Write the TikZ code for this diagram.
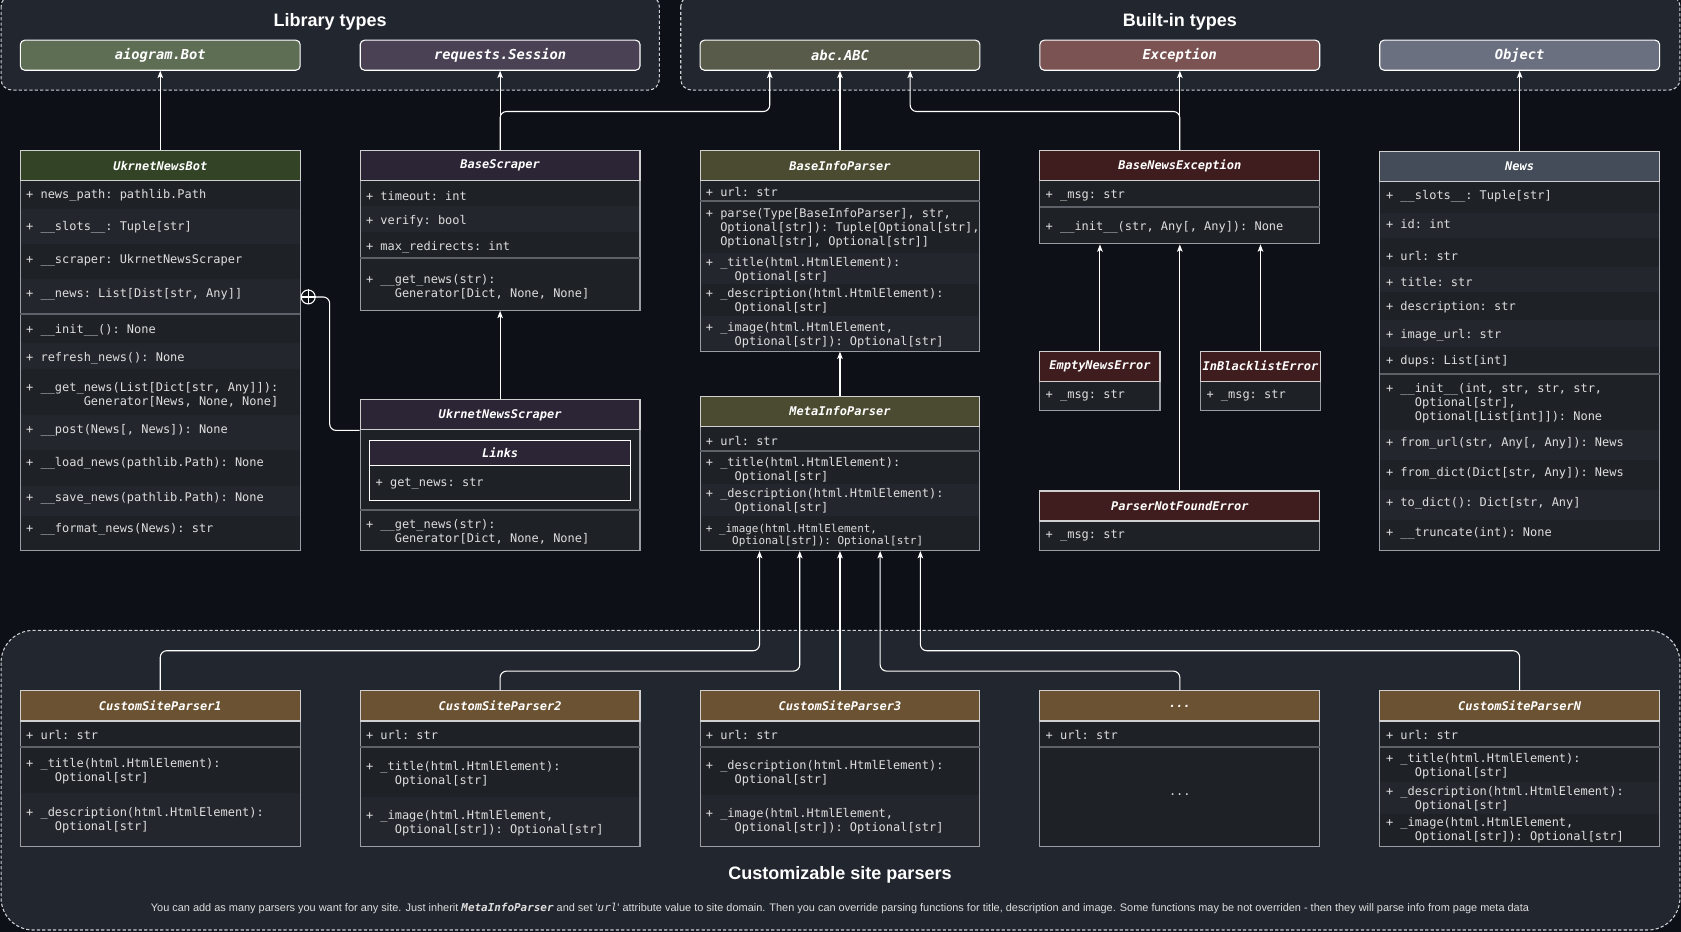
\documentclass[tikz,border=0pt]{standalone}
\usepackage{fontspec}
\usepackage{xcolor}
\usepackage{tikz}
\usetikzlibrary{arrows.meta}
\setmainfont{Liberation Sans}
\setmonofont{DejaVu Sans Mono}

\definecolor{bgc}{HTML}{0D1117}
\definecolor{grpfill}{HTML}{22262E}
\definecolor{grpline}{HTML}{CDD1D6}
\definecolor{rowa}{HTML}{1E2227}
\definecolor{rowbc}{HTML}{23272D}
\definecolor{boxline}{HTML}{9A9EA4}
\definecolor{headline}{HTML}{D0D0D0}
\definecolor{sepc}{HTML}{5E6268}
\definecolor{txtc}{HTML}{DDDDDD}
\definecolor{aioc}{HTML}{5E6E55}
\definecolor{reqc}{HTML}{4A4254}
\definecolor{abcc}{HTML}{585A4A}
\definecolor{excc}{HTML}{7A5352}
\definecolor{objc}{HTML}{6B7081}
\definecolor{botc}{HTML}{334426}
\definecolor{scrc}{HTML}{2B2536}
\definecolor{parc}{HTML}{4A4B30}
\definecolor{errc}{HTML}{3F1D1E}
\definecolor{newsc}{HTML}{434C58}
\definecolor{custc}{HTML}{6B5232}

\begin{document}
\begin{tikzpicture}[x=0.5pt, y=-0.5pt,
    grp/.style={draw=grpline, fill=grpfill, dash pattern=on 1.5pt off 1pt, line width=0.5pt},
    grptitle/.style={text=white, font=\fontsize{8.4}{10}\selectfont\bfseries},
    note/.style={text=txtc, font=\fontsize{5.1}{6}\selectfont},
    ext/.style={draw=white, rounded corners=2pt, line width=0.5pt, minimum width=130.5pt, minimum height=14pt, anchor=north, inner sep=0pt, text=white, font=\fontsize{6.4}{7.5}\selectfont\ttfamily\bfseries\itshape},
    cls/.style={draw=boxline, fill=rowa, line width=0.5pt, minimum width=130.5pt, anchor=north, inner sep=0pt},
    head/.style={draw=headline, line width=0.5pt, minimum width=130.5pt, minimum height=14pt, anchor=north, inner sep=0pt, text=white, font=\fontsize{5.6}{6.6}\selectfont\ttfamily\bfseries\itshape},
    txt/.style={anchor=west, inner sep=0pt, yshift=-0.7pt, align=left, text=txtc, font=\fontsize{5.58}{6.55}\selectfont\ttfamily},
    rowb/.style={fill=rowbc},
    divider/.style={draw=sepc, line width=1pt},
    nestc/.style={circle, draw=white, line width=0.5pt, minimum size=6.5pt, inner sep=0pt},
    link/.style={draw=white, line width=0.5pt, rounded corners=3pt},
    inh/.style={draw=white, line width=0.5pt, rounded corners=3pt, -{Stealth[length=3.4pt, width=2.6pt, inset=0.8pt]}}]

    % Background
    \fill[bgc] (0,0) rectangle (1568,869.35);
    \useasboundingbox (0,0) rectangle (1568,869.35);

    % Groups
    \draw[grp, rounded corners=5pt] (1,-4) rectangle (615,84);
    \draw[grp, rounded corners=5pt] (635,-4) rectangle (1567,84);
    \draw[grp, rounded corners=15pt] (1,588) rectangle (1567,867.5);
    \node[grptitle] (libt) at (308,20.5) {Library types};
    \node[grptitle] (bint) at (1100.5,20.5) {Built-in types};
    \node[grptitle] (cspt) at (783.5,816) {Customizable site parsers};
    \node[note] (cspnote) at (783.5,847.5) {You can add as many parsers you want for any site. Just inherit \texttt{\textbf{\textit{MetaInfoParser}}} and set \textquotesingle\texttt{\textit{url}}\textquotesingle{} attribute value to site domain. Then you can override parsing functions for title, description and image. Some functions may be not overriden - then they will parse info from page meta data};

    % Library and built-in types
    \node[ext, fill=aioc] (aio) at (149.5,37) {aiogram.Bot};
    \node[ext, fill=reqc] (req) at (466.5,37) {requests.Session};
    \node[ext, fill=abcc] (abc) at (783.5,37) {abc.ABC};
    \node[ext, fill=excc] (exc) at (1100.5,37) {Exception};
    \node[ext, fill=objc] (obj) at (1417.5,37) {Object};

    % UkrnetNewsBot
    \node[cls, minimum height=186.5pt] (bot) at (149.5,140) {};
    \fill[rowb] (19.5,195) rectangle (279.5,228);
    \fill[rowb] (19.5,260) rectangle (279.5,293);
    \fill[rowb] (19.5,320) rectangle (279.5,344);
    \fill[rowb] (19.5,387) rectangle (279.5,420);
    \fill[rowb] (19.5,453) rectangle (279.5,481);
    \draw[divider] (19,293) -- (280,293);
    \node[head, fill=botc] (bothd) at (149.5,140) {UkrnetNewsBot};
    \node[txt] (bota1) at (24,181) {+ news\_path: pathlib.Path};
    \node[txt] (bota2) at (24,211) {+ \_\_slots\_\_: Tuple[str]};
    \node[txt] (bota3) at (24,241) {+ \_\_scraper: UkrnetNewsScraper};
    \node[txt] (bota4) at (24,273.5) {+ \_\_news: List[Dist[str, Any]]};
    \node[txt] (botm1) at (24,307) {+ \_\_init\_\_(): None};
    \node[txt] (botm2) at (24,333) {+ refresh\_news(): None};
    \node[txt] (botm3) at (24,366.5) {+ \_\_get\_news(List[Dict[str, Any]]):\\\phantom{++++++++}Generator[News, None, None]};
    \node[txt] (botm4) at (24,400) {+ \_\_post(News[, News]): None};
    \node[txt] (botm5) at (24,431) {+ \_\_load\_news(pathlib.Path): None};
    \node[txt] (botm6) at (24,463.5) {+ \_\_save\_news(pathlib.Path): None};
    \node[txt] (botm7) at (24,492) {+ \_\_format\_news(News): str};

    % BaseScraper
    \node[cls, minimum height=74.5pt] (bs) at (466.5,140) {};
    \fill[rowb] (336.5,192) rectangle (596.5,216);
    \draw[divider] (336,241) -- (597,241);
    \node[head, fill=scrc] (bshd) at (466.5,140) {BaseScraper};
    \node[txt] (bsa1) at (341,181) {+ timeout: int};
    \node[txt] (bsa2) at (341,205) {+ verify: bool};
    \node[txt] (bsa3) at (341,229) {+ max\_redirects: int};
    \node[txt] (bsm1) at (341,266.5) {+ \_\_get\_news(str):\\\phantom{++++}Generator[Dict, None, None]};

    % UkrnetNewsScraper with nested Links
    \node[cls, minimum height=70.25pt] (uns) at (466.5,372.5) {};
    \draw[divider] (336,476) -- (597,476);
    \node[head, fill=scrc] (unshd) at (466.5,372.5) {UkrnetNewsScraper};
    \node[cls, draw=white, minimum width=121.5pt, minimum height=28pt] (lnk) at (466.5,410) {};
    \node[head, fill=scrc, draw=white, minimum width=121.5pt, minimum height=12pt] (lnkhd) at (466.5,410) {Links};
    \node[txt] (lnka1) at (350,449.5) {+ get\_news: str};
    \node[txt] (unsm1) at (341,495) {+ \_\_get\_news(str):\\\phantom{++++}Generator[Dict, None, None]};

    % BaseInfoParser
    \node[cls, minimum height=93.5pt] (bip) at (783.5,140) {};
    \fill[rowb] (653.5,236) rectangle (913.5,265);
    \fill[rowb] (653.5,294.5) rectangle (913.5,326.5);
    \draw[divider] (653,187.5) -- (914,187.5);
    \node[head, fill=parc] (biphd) at (783.5,140) {BaseInfoParser};
    \node[txt] (bipa1) at (658,178) {+ url: str};
    \node[txt] (bipm1) at (658,211.7) {+ parse(Type[BaseInfoParser], str,\\\phantom{++}Optional[str]): Tuple[Optional[str],\\\phantom{++}Optional[str], Optional[str]]};
    \node[txt] (bipm2) at (658,250.9) {+ \_title(html.HtmlElement):\\\phantom{++++}Optional[str]};
    \node[txt] (bipm3) at (658,279.8) {+ \_description(html.HtmlElement):\\\phantom{++++}Optional[str]};
    \node[txt] (bipm4) at (658,311.5) {+ \_image(html.HtmlElement,\\\phantom{++++}Optional[str]): Optional[str]};

    % MetaInfoParser
    \node[cls, minimum height=72pt] (mip) at (783.5,369) {};
    \fill[rowb] (653.5,451.5) rectangle (913.5,481);
    \draw[divider] (653,421) -- (914,421);
    \node[head, fill=parc] (miphd) at (783.5,369) {MetaInfoParser};
    \node[txt] (mipa1) at (658,409.5) {+ url: str};
    \node[txt] (mipm1) at (658,437.5) {+ \_title(html.HtmlElement):\\\phantom{++++}Optional[str]};
    \node[txt] (mipm2) at (658,466.4) {+ \_description(html.HtmlElement):\\\phantom{++++}Optional[str]};
    \node[txt, font=\fontsize{5.1}{6}\selectfont\ttfamily] (mipm3) at (658,498.1) {+ \_image(html.HtmlElement,\\\phantom{++++}Optional[str]): Optional[str]};

    % Exceptions
    \node[cls, minimum height=43.5pt] (bne) at (1100.5,140) {};
    \draw[divider] (970,193) -- (1231,193);
    \node[head, fill=errc] (bnehd) at (1100.5,140) {BaseNewsException};
    \node[txt] (bnea1) at (975,181) {+ \_msg: str};
    \node[txt] (bnem1) at (975,210.8) {+ \_\_init\_\_(str, Any[, Any]): None};

    \node[cls, minimum width=56pt, minimum height=27.75pt] (ene) at (1026,327) {};
    \node[head, fill=errc, minimum width=56pt] (enehd) at (1026,327) {EmptyNewsError};
    \node[txt] (enea1) at (975,367.5) {+ \_msg: str};

    \node[cls, minimum width=55.75pt, minimum height=27.75pt] (ibe) at (1175.75,327) {};
    \node[head, fill=errc, minimum width=55.75pt] (ibehd) at (1175.75,327) {InBlacklistError};
    \node[txt] (ibea1) at (1125,367.5) {+ \_msg: str};

    \node[cls, minimum height=27.75pt] (pnf) at (1100.5,457.5) {};
    \node[head, fill=errc] (pnfhd) at (1100.5,457.5) {ParserNotFoundError};
    \node[txt] (pnfa1) at (975,498) {+ \_msg: str};

    % News
    \node[cls, minimum height=186pt] (nws) at (1417.5,141) {};
    \fill[rowb] (1287.5,199) rectangle (1547.5,222);
    \fill[rowb] (1287.5,249) rectangle (1547.5,272);
    \fill[rowb] (1287.5,298.5) rectangle (1547.5,323.5);
    \fill[rowb] (1287.5,401) rectangle (1547.5,429);
    \fill[rowb] (1287.5,457) rectangle (1547.5,485);
    \draw[divider] (1287,348.5) -- (1548,348.5);
    \node[head, fill=newsc] (nwshd) at (1417.5,141) {News};
    \node[txt] (nwsa1) at (1292.5,182) {+ \_\_slots\_\_: Tuple[str]};
    \node[txt] (nwsa2) at (1292.5,208) {+ id: int};
    \node[txt] (nwsa3) at (1292.5,237) {+ url: str};
    \node[txt] (nwsa4) at (1292.5,262) {+ title: str};
    \node[txt] (nwsa5) at (1292.5,285.4) {+ description: str};
    \node[txt] (nwsa6) at (1292.5,311.2) {+ image\_url: str};
    \node[txt] (nwsa7) at (1292.5,335.8) {+ dups: List[int]};
    \node[txt] (nwsm1) at (1292.5,375) {+ \_\_init\_\_(int, str, str, str,\\\phantom{++++}Optional[str],\\\phantom{++++}Optional[List[int]]): None};
    \node[txt] (nwsm2) at (1292.5,412.3) {+ from\_url(str, Any[, Any]): News};
    \node[txt] (nwsm3) at (1292.5,440.3) {+ from\_dict(Dict[str, Any]): News};
    \node[txt] (nwsm4) at (1292.5,468.2) {+ to\_dict(): Dict[str, Any]};
    \node[txt] (nwsm5) at (1292.5,496.2) {+ \_\_truncate(int): None};

    % Custom site parsers
    \node[cls, minimum height=72.75pt] (csp1) at (149.5,644) {};
    \fill[rowb] (19.5,740) rectangle (279.5,789);
    \draw[divider] (19,696.5) -- (280,696.5);
    \node[head, fill=custc] (csp1hd) at (149.5,644) {CustomSiteParser1};
    \node[txt] (csp1a1) at (24,684.3) {+ url: str};
    \node[txt] (csp1m1) at (24,718) {+ \_title(html.HtmlElement):\\\phantom{++++}Optional[str]};
    \node[txt] (csp1m2) at (24,764) {+ \_description(html.HtmlElement):\\\phantom{++++}Optional[str]};

    \node[cls, minimum height=72.75pt] (csp2) at (466.5,644) {};
    \fill[rowb] (336.5,743) rectangle (596.5,789);
    \draw[divider] (336,696.5) -- (597,696.5);
    \node[head, fill=custc] (csp2hd) at (466.5,644) {CustomSiteParser2};
    \node[txt] (csp2a1) at (341,684.3) {+ url: str};
    \node[txt] (csp2m1) at (341,720.7) {+ \_title(html.HtmlElement):\\\phantom{++++}Optional[str]};
    \node[txt] (csp2m2) at (341,766.4) {+ \_image(html.HtmlElement,\\\phantom{++++}Optional[str]): Optional[str]};

    \node[cls, minimum height=72.75pt] (csp3) at (783.5,644) {};
    \fill[rowb] (653.5,742) rectangle (913.5,789);
    \draw[divider] (653,696.5) -- (914,696.5);
    \node[head, fill=custc] (csp3hd) at (783.5,644) {CustomSiteParser3};
    \node[txt] (csp3a1) at (658,684.3) {+ url: str};
    \node[txt] (csp3m1) at (658,720) {+ \_description(html.HtmlElement):\\\phantom{++++}Optional[str]};
    \node[txt] (csp3m2) at (658,764.5) {+ \_image(html.HtmlElement,\\\phantom{++++}Optional[str]): Optional[str]};

    \node[cls, minimum height=72.75pt] (cspd) at (1100.5,644) {};
    \draw[divider] (970,696.5) -- (1231,696.5);
    \node[head, fill=custc] (cspdhd) at (1100.5,644) {...};
    \node[txt] (cspda1) at (975,684.3) {+ url: str};
    \node[txt, anchor=center] (cspdm1) at (1100.5,740) {...};

    \node[cls, minimum height=72.75pt] (cspn) at (1417.5,644) {};
    \fill[rowb] (1287.5,729) rectangle (1547.5,759);
    \draw[divider] (1287,696.5) -- (1548,696.5);
    \node[head, fill=custc] (cspnhd) at (1417.5,644) {CustomSiteParserN};
    \node[txt] (cspna1) at (1292.5,684.3) {+ url: str};
    \node[txt] (cspnm1) at (1292.5,713) {+ \_title(html.HtmlElement):\\\phantom{++++}Optional[str]};
    \node[txt] (cspnm2) at (1292.5,744.3) {+ \_description(html.HtmlElement):\\\phantom{++++}Optional[str]};
    \node[txt] (cspnm3) at (1292.5,773.3) {+ \_image(html.HtmlElement,\\\phantom{++++}Optional[str]): Optional[str]};

    % Nested class marker
    \node[nestc] (nest) at (287.5,277) {};
    \draw[link] (nest.north) -- (nest.south) (nest.west) -- (nest.east);
    \draw[link] (nest.east) -| ([xshift=-14pt]unshd.south west) -- (unshd.south west);

    % Inheritance
    \draw[inh] (bot.north) -- (aio.south);
    \draw[inh] (bs.north) -- (req.south);
    \draw[inh] (bs.north) |- ([xshift=-32.75pt, yshift=-19pt]abc.south) -- ([xshift=-32.75pt]abc.south);
    \draw[inh] (bip.north) -- (abc.south);
    \draw[inh] (bne.north) -- (exc.south);
    \draw[inh] (bne.north) |- ([xshift=32.75pt, yshift=-19pt]abc.south) -- ([xshift=32.75pt]abc.south);
    \draw[inh] (nws.north) -- (obj.south);
    \draw[inh] (uns.north) -- (bs.south);
    \draw[inh] (mip.north) -- (bip.south);
    \draw[inh] (ene.north) -- (ene.north |- bne.south);
    \draw[inh] (ibe.north) -- (ibe.north |- bne.south);
    \draw[inh] (pnf.north) -- (bne.south);

    % Custom parsers to MetaInfoParser
    \draw[inh] (csp1.north) |- ([xshift=-37.5pt, yshift=-46.5pt]mip.south) -- ([xshift=-37.5pt]mip.south);
    \draw[inh] (csp2.north) |- ([xshift=-18.75pt, yshift=-56pt]mip.south) -- ([xshift=-18.75pt]mip.south);
    \draw[inh] (csp3.north) -- (mip.south);
    \draw[inh] (cspd.north) |- ([xshift=18.75pt, yshift=-56pt]mip.south) -- ([xshift=18.75pt]mip.south);
    \draw[inh] (cspn.north) |- ([xshift=37.5pt, yshift=-46.5pt]mip.south) -- ([xshift=37.5pt]mip.south);
\end{tikzpicture}
\end{document}
